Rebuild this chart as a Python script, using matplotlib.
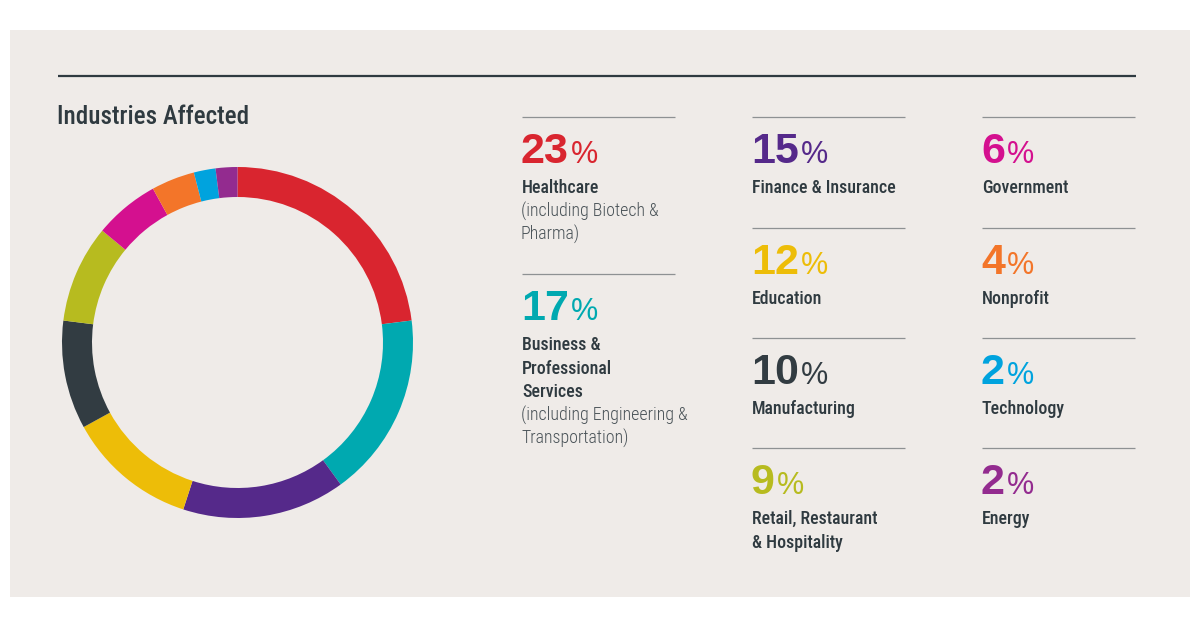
import matplotlib
matplotlib.use('Agg')
import matplotlib.pyplot as plt
from matplotlib.patches import Rectangle

# ---- data ----
INDUSTRIES = ['Healthcare', 'Business & Professional Services', 'Finance & Insurance',
              'Education', 'Manufacturing', 'Retail, Restaurant & Hospitality',
              'Government', 'Nonprofit', 'Technology', 'Energy']
SHARES = [23, 17, 15, 12, 10, 9, 6, 4, 2, 2]
COLORS = ['#d9252f', '#00a9b0', '#55298a', '#edbd08', '#323c42',
          '#b7bb1f', '#d4108f', '#f37529', '#00a3de', '#932b8f']
# label lines (main, sub) as printed in the legend blocks
LABEL_MAIN = [['Healthcare'], ['Business &', 'Professional', 'Services'],
              ['Finance & Insurance'], ['Education'], ['Manufacturing'],
              ['Retail, Restaurant', '& Hospitality'], ['Government'],
              ['Nonprofit'], ['Technology'], ['Energy']]
LABEL_SUB = [['(including Biotech &', 'Pharma)'],
             ['(including Engineering &', 'Transportation)'],
             [], [], [], [], [], [], [], []]

BG = '#efebe8'
DARK = '#2f3a40'
RULE = '#8e9193'
COND = ['Roboto Condensed', 'DejaVu Sans']
NUMF = ['Liberation Sans', 'DejaVu Sans']

W, H = 1200, 627
fig = plt.figure(figsize=(W / 100, H / 100), dpi=100, facecolor='white')
ax = fig.add_axes([0, 0, 1, 1])
ax.set_xlim(0, W)
ax.set_ylim(H, 0)
ax.axis('off')

ax.add_patch(Rectangle((10, 30), 1180, 567, facecolor=BG, edgecolor='none'))
ax.plot([58, 1136], [76, 76], color=DARK, lw=1.6, solid_capstyle='butt')
ax.text(57, 124, 'Industries Affected', fontsize=18, family=COND, fontstretch='condensed',
        fontweight=500, color=DARK, va='baseline', ha='left')

# ---- donut ----
cx, cy, r = 237.5, 342.5, 175.5
dax = fig.add_axes([(cx - r) / W, (H - cy - r) / H, 2 * r / W, 2 * r / H])
dax.pie(SHARES, colors=COLORS, startangle=90, counterclock=False,
        wedgeprops=dict(width=30 / r, edgecolor='none', linewidth=0))
dax.set_xlim(-1, 1)
dax.set_ylim(-1, 1)
dax.axis('off')

# ---- legend blocks ----
# (column x, rule y) for each industry
BLOCKS = [(522, 117), (522, 274),
          (752, 117), (752, 228), (752, 338), (752, 448),
          (982, 117), (982, 228), (982, 338), (982, 448)]
RULE_W = 153

fig.canvas.draw()
renderer = fig.canvas.get_renderer()
inv = ax.transData.inverted()

for i, (x0, y0) in enumerate(BLOCKS):
    ax.plot([x0, x0 + RULE_W], [y0, y0], color=RULE, lw=0.9, solid_capstyle='butt')
    num = ax.text(x0 - 1, y0 + 46, str(SHARES[i]), fontsize=31, fontweight='bold',
                  family=NUMF, color=COLORS[i], va='baseline', ha='left')
    bb = num.get_window_extent(renderer)
    xr = inv.transform((bb.x1, bb.y0))[0]
    ax.text(xr + 2, y0 + 46, '%', fontsize=22, family=NUMF,
            color=COLORS[i], va='baseline', ha='left')
    yy = y0 + 76
    for line in LABEL_MAIN[i]:
        ax.text(x0, yy, line, fontsize=12.9, family=COND, fontstretch='condensed',
                fontweight=500, color=DARK, va='baseline', ha='left')
        yy += 23.5
    for line in LABEL_SUB[i]:
        ax.text(x0 - 1, yy, line, fontsize=12.9, family=COND, fontstretch='condensed',
                fontweight=300, color='#4a5358', va='baseline', ha='left')
        yy += 23.5

fig.savefig('out.png', dpi=100, facecolor='white')
